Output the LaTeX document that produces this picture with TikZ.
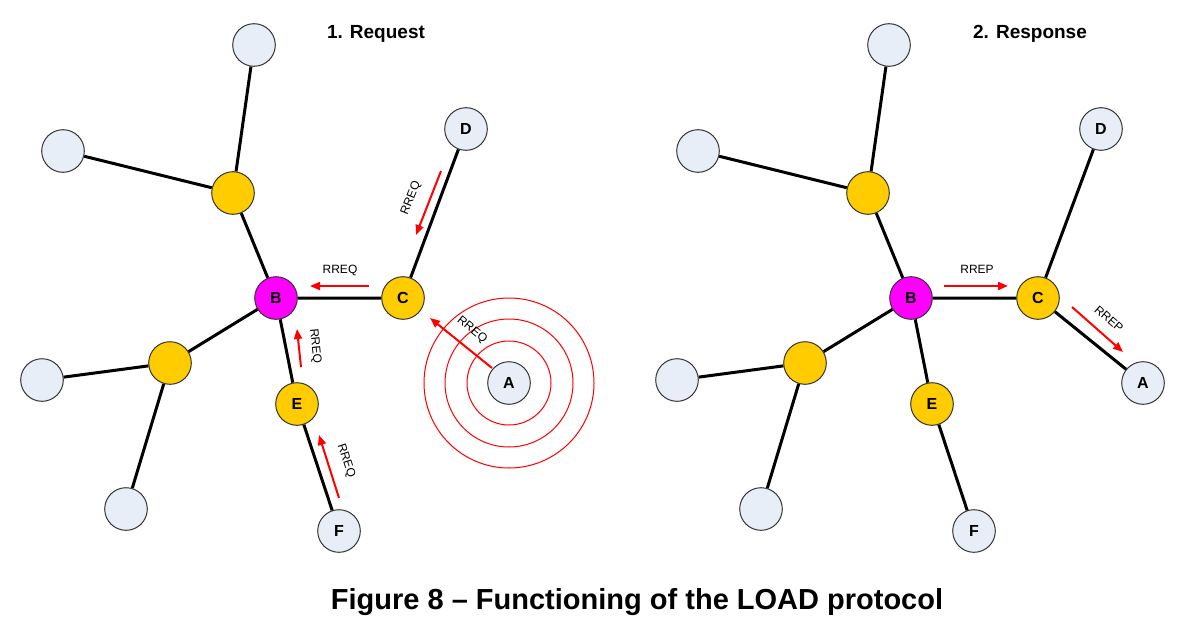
\documentclass[tikz,border=0pt]{standalone}
\usepackage{fontspec}
\setmainfont{Liberation Sans}
\usetikzlibrary{arrows.meta}
\definecolor{nodeblue}{HTML}{E8EEF7}
\definecolor{nodeyellow}{HTML}{FFCC00}
\definecolor{nodemagenta}{HTML}{FF00FF}
\begin{document}
\begin{tikzpicture}[x=0.5pt, y=-0.5pt]
      \tikzset{
	  station/.style={circle, draw=black!80, line width=0.5pt, fill=nodeblue, minimum size=21.3pt, inner sep=0pt, font=\bfseries\fontsize{8}{8}\selectfont},
	  relay/.style={station, fill=nodeyellow},
	  source/.style={station, fill=nodemagenta},
	  link/.style={line width=1.5pt, black},
	  msg/.style={red, line width=1pt, -{Triangle[length=5pt, width=4pt]}},
	  ring/.style={red, line width=0.5pt},
	  msglabel/.style={font=\fontsize{6}{6}\selectfont, inner sep=0pt},
	  heading/.style={font=\bfseries\fontsize{9.5}{9.5}\selectfont}
      }
      \useasboundingbox (0,0) rectangle (1187,626);

      % 1. request
      \node at (376, 34) [heading] (reqtitle) {1. Request};
      \coordinate (lAc) at (509, 383);
      \draw[ring] (lAc) circle (42) (lAc) circle (64) (lAc) circle (85);
      \node at (254, 45) [station] (lt) {};
      \node at (63, 151) [station] (ltl) {};
      \node at (233, 193) [relay] (lu) {};
      \node at (276, 298) [source] (lB) {B};
      \node at (403, 298) [relay] (lC) {C};
      \node at (466, 129) [station] (lD) {D};
      \node at (170, 363) [relay] (ll) {};
      \node at (42, 380) [station] (lw) {};
      \node at (126, 509) [station] (lbl) {};
      \node at (297, 404) [relay] (lE) {E};
      \node at (339, 531) [station] (lF) {F};
      \node at (lAc) [station] (lA) {A};
      \draw[link] (lt) -- (lu) (ltl) -- (lu) (lu) -- (lB) (lB) -- (lC) (lC) -- (lD)
	    (lB) -- (ll) (ll) -- (lw) (ll) -- (lbl) (lB) -- (lE) (lE) -- (lF);

      \coordinate (m1s) at (441, 171); \coordinate (m1e) at (416, 235);
      \coordinate (m2s) at (369, 286); \coordinate (m2e) at (310, 286);
      \coordinate (m3s) at (301, 367); \coordinate (m3e) at (297, 329);
      \coordinate (m4s) at (339, 498); \coordinate (m4e) at (319, 435);
      \coordinate (m5s) at (492, 368); \coordinate (m5e) at (430, 318);
      \draw[msg] (m1s) -- (m1e);
      \draw[msg] (m2s) -- (m2e);
      \draw[msg] (m3s) -- (m3e);
      \draw[msg] (m4s) -- (m4e);
      \draw[msg] (m5s) -- (m5e);
      \node at (411, 198) [msglabel, rotate=68] (q1) {RREQ};
      \node at (340, 270) [msglabel] (q2) {RREQ};
      \node at (315, 346) [msglabel, rotate=-84] (q3) {RREQ};
      \node at (346, 461) [msglabel, rotate=-72] (q4) {RREQ};
      \node at (472, 330) [msglabel, rotate=-39] (q5) {RREQ};

      % 2. response
      \node at (1030, 34) [heading] (reptitle) {2. Response};
      \node at (889, 45) [station] (rt) {};
      \node at (698, 151) [station] (rtl) {};
      \node at (868, 193) [relay] (ru) {};
      \node at (911, 298) [source] (rB) {B};
      \node at (1038, 298) [relay] (rC) {C};
      \node at (1101, 129) [station] (rD) {D};
      \node at (805, 363) [relay] (rl) {};
      \node at (677, 380) [station] (rw) {};
      \node at (761, 509) [station] (rbl) {};
      \node at (932, 404) [relay] (rE) {E};
      \node at (974, 531) [station] (rF) {F};
      \node at (1143, 383) [station] (rA) {A};
      \draw[link] (rt) -- (ru) (rtl) -- (ru) (ru) -- (rB) (rB) -- (rC) (rC) -- (rD)
	    (rB) -- (rl) (rl) -- (rw) (rl) -- (rbl) (rB) -- (rE) (rE) -- (rF) (rC) -- (rA);

      \coordinate (p1s) at (944, 286); \coordinate (p1e) at (1008, 286);
      \coordinate (p2s) at (1072, 307); \coordinate (p2e) at (1123, 352);
      \draw[msg] (p1s) -- (p1e);
      \draw[msg] (p2s) -- (p2e);
      \node at (977, 269) [msglabel] (r1) {RREP};
      \node at (1109, 319) [msglabel, rotate=-41] (r2) {RREP};

      \node at (637, 602) [font=\bfseries\fontsize{14.5}{14.5}\selectfont] (caption) {Figure 8 – Functioning of the LOAD protocol};
\end{tikzpicture}
\end{document}
